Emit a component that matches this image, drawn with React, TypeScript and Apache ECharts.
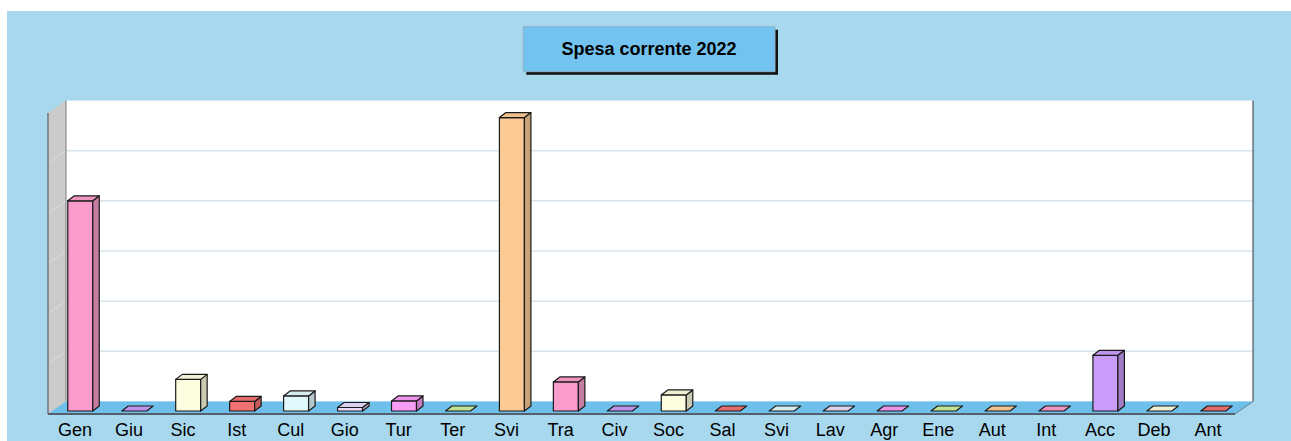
import React, { useEffect, useRef } from "react";
import * as echarts from "echarts";

// Short labels of the spending areas (missioni), as on the axis
const categories = [
  "Gen", "Giu", "Sic", "Ist", "Cul", "Gio", "Tur", "Ter", "Svi", "Tra", "Civ",
  "Soc", "Sal", "Svi", "Lav", "Agr", "Ene", "Aut", "Int", "Acc", "Deb", "Ant",
];
// Relative amounts (one unit = one gridline step)
const values = [
  4.19, 0, 0.63, 0.19, 0.3, 0.07, 0.2, 0, 5.85, 0.58, 0,
  0.32, 0, 0, 0, 0, 0, 0, 0, 1.11, 0, 0,
];
const palette = [
  "#f99ccb", "#c99cf9", "#fdfddf", "#f27272", "#e1f9fd",
  "#e9dbfb", "#f99cf5", "#cbf09b", "#fdca96",
];
const titleText = "Spesa corrente 2022";
const yMax = 6;
const yStep = 1;

function shade(hex: string, f: number): string {
  const n = parseInt(hex.slice(1), 16);
  const r = Math.round(((n >> 16) & 255) * f);
  const g = Math.round(((n >> 8) & 255) * f);
  const b = Math.round((n & 255) * f);
  return `rgb(${r},${g},${b})`;
}

const DX = 18; // floor depth (horizontal)
const DY = -12.5; // floor depth (vertical)

export default function App() {
  const ref = useRef<HTMLDivElement>(null);
  useEffect(() => {
    if (!ref.current) return;
    const chart = echarts.init(ref.current, null, { renderer: "svg" });
    const frameRender = (params: any, api: any) => {
      const cs = params.coordSys;
      const x = cs.x, y = cs.y, w = cs.width, h = cs.height;
      const children: any[] = [];
      // back wall
      children.push({
        type: "rect",
        shape: { x: x + DX, y: y + DY, width: w, height: h },
        style: { fill: "#ffffff" },
      });
      // left side wall
      children.push({
        type: "polygon",
        shape: { points: [[x, y + h], [x, y], [x + DX, y + DY], [x + DX, y + h + DY]] },
        style: { fill: "#cbcbcb" },
      });
      // grid lines
      for (let v = yStep; v < yMax; v += yStep) {
        const yy = api.coord([0, v])[1];
        children.push({
          type: "line",
          shape: { x1: x + DX, y1: yy + DY, x2: x + w + DX, y2: yy + DY },
          style: { stroke: "#d6e4ea", lineWidth: 1.5 },
        });
        children.push({
          type: "line",
          shape: { x1: x, y1: yy, x2: x + DX, y2: yy + DY },
          style: { stroke: "#d8e0e4", lineWidth: 0.8 },
        });
      }
      // edges of walls
      children.push({
        type: "line",
        shape: { x1: x + DX, y1: y + DY, x2: x + DX, y2: y + h + DY },
        style: { stroke: "#8a8a8a", lineWidth: 1.2 },
      });
      children.push({
        type: "line",
        shape: { x1: x + w + DX, y1: y + DY, x2: x + w + DX, y2: y + h + DY },
        style: { stroke: "#4a5560", lineWidth: 1.2 },
      });
      children.push({
        type: "line",
        shape: { x1: x, y1: y, x2: x, y2: y + h },
        style: { stroke: "#55606a", lineWidth: 1.2 },
      });
      // floor
      children.push({
        type: "polygon",
        shape: { points: [[x, y + h], [x + w, y + h], [x + w + DX, y + h + DY], [x + DX, y + h + DY]] },
        style: { fill: "#6ec0ea" },
      });
      children.push({
        type: "line",
        shape: { x1: x + w, y1: y + h, x2: x + w + DX, y2: y + h + DY },
        style: { stroke: "#6a8090", lineWidth: 1 },
      });
      children.push({
        type: "line",
        shape: { x1: x, y1: y + h, x2: x + w, y2: y + h },
        style: { stroke: "#55606c", lineWidth: 2 },
      });
      return { type: "group", children };
    };

    const barRender = (params: any, api: any) => {
      const i = api.value(0);
      const v = api.value(1);
      const base = api.coord([i, 0]);
      const top = api.coord([i, v]);
      const bw = api.size([1, 0])[0] * 0.463;
      const cx = base[0] + 5.3;
      const x0 = cx - bw / 2;
      const x1 = cx + bw / 2;
      const yb = base[1] - 3;
      const yt = top[1] - 3;
      const ddx = 6.5, ddy = -5;
      const c = palette[i % palette.length];
      const stroke = { stroke: "#1a1a1a", lineWidth: 1.2, lineJoin: "round" };
      const children: any[] = [];
      if (yb - yt > 0.5) {
        children.push({
          type: "rect",
          shape: { x: x0, y: yt, width: bw, height: yb - yt },
          style: { fill: c, ...stroke },
        });
        children.push({
          type: "polygon",
          shape: { points: [[x1, yb], [x1 + ddx, yb + ddy], [x1 + ddx, yt + ddy], [x1, yt]] },
          style: { fill: shade(c, 0.8), ...stroke },
        });
      }
      children.push({
        type: "polygon",
        shape: { points: [[x0, yt], [x1, yt], [x1 + ddx, yt + ddy], [x0 + ddx, yt + ddy]] },
        style: { fill: shade(c, 0.95), ...stroke },
      });
      return { type: "group", children };
    };

    chart.setOption({
      animation: false,
      backgroundColor: "#a8d8ee",
      grid: { left: 41, top: 102, width: 1187, height: 301, containLabel: false },
      xAxis: {
        type: "category",
        data: categories,
        boundaryGap: true,
        axisLine: { show: false },
        axisTick: { show: false },
        splitLine: { show: false },
        axisLabel: {
          interval: 0,
          margin: 7,
          color: "#000",
          fontSize: 18,
          fontFamily: "Liberation Sans, Arial, sans-serif",
        },
      },
      yAxis: {
        type: "value",
        min: 0,
        max: yMax,
        interval: yStep,
        axisLine: { show: false },
        axisTick: { show: false },
        axisLabel: { show: false },
        splitLine: { show: false },
      },
      graphic: [
        {
          type: "group",
          children: [
            {
              type: "rect",
              shape: { x: 519.3, y: 18.7, width: 251.7, height: 45 },
              style: { fill: "#111" },
            },
            {
              type: "rect",
              shape: { x: 516.3, y: 15.7, width: 251.7, height: 45 },
              style: { fill: "#72c3ef", stroke: "#8fb2c8", lineWidth: 1 },
            },
            {
              type: "text",
              x: 642,
              y: 38,
              style: {
                text: titleText,
                align: "center",
                verticalAlign: "middle",
                fontSize: 18,
                fontWeight: "bold",
                fontFamily: "Liberation Sans, Arial, sans-serif",
                fill: "#000",
              },
            },
          ],
        },
      ],
      series: [
        {
          type: "custom",
          name: "frame",
          silent: true,
          clip: false,
          z: 1,
          data: [[0, 0]],
          renderItem: frameRender,
        },
        {
          type: "custom",
          name: titleText,
          clip: false,
          z: 2,
          data: values.map((v, i) => [i, v]),
          renderItem: barRender,
        },
      ],
    });
    return () => chart.dispose();
  }, []);
  return (
    <div
      ref={ref}
      style={{ position: "fixed", left: 7, top: 11, width: 1284, height: 430 }}
    />
  );
}
